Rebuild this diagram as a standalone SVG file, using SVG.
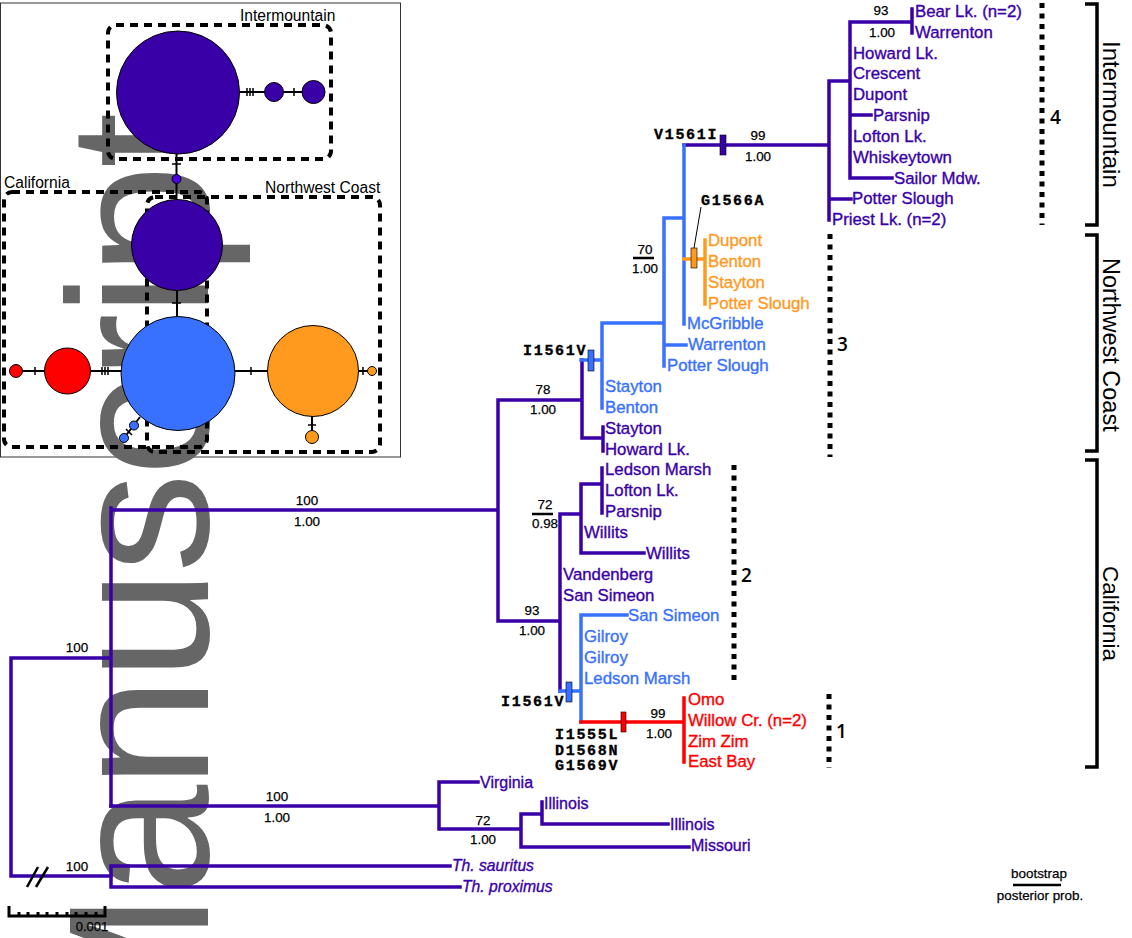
<svg xmlns="http://www.w3.org/2000/svg" width="1132" height="938" viewBox="0 0 1132 938">
<style>
text{font-family:"Liberation Sans",Arial,sans-serif}
.wm{font-size:200px;fill:#666;letter-spacing:-3.500px}
.t{font-size:16.800px;stroke-width:.35}
.l{font-size:16px}
.p{fill:#3a00a8;stroke:#3a00a8}.b{fill:#3870ff;stroke:#3870ff}.o{fill:#ff9a1f;stroke:#ff9a1f}.r{fill:#f00;stroke:#f00}
.i{font-style:italic;font-size:15.700px}
.s{font-size:13.400px;fill:#000;text-anchor:middle;stroke:#000;stroke-width:.25}
.m{font-family:"Liberation Mono",monospace;font-size:15px;font-weight:bold;fill:#000;stroke:#000;stroke-width:.35;letter-spacing:1.700px}
.n{font-family:"Open Sans",sans-serif;font-size:19px;font-weight:600;fill:#000}
.reg{fill:#000}
.hl{font-size:15.600px;fill:#000}
.c{stroke:#000;stroke-width:1}
.e{fill:none;stroke-width:3.500;stroke-linejoin:miter;stroke-linecap:square}
.ep{stroke:#3a00a8}.eb{stroke:#3870ff}.eo{stroke:#ff9a1f}.er{stroke:#f00}
.k{fill:none;stroke:#000;stroke-width:2}
.d{fill:none;stroke:#000;stroke-width:4;stroke-dasharray:8 6}
.v{fill:none;stroke:#000;stroke-width:5;stroke-dasharray:5 5.500}
.tick{stroke:#000;stroke-width:1.500;fill:none}
</style>
<rect x="0.500" y="3" width="400" height="454" fill="#fff" stroke="#333" stroke-width="1"/>
<text class="wm" transform="translate(208,1059) rotate(-90)">Manuscript</text>
<g id="regions">
<rect class="d" x="108" y="25" width="223" height="134" rx="8"/>
<rect class="d" x="4" y="192" width="203" height="255" rx="8"/>
<rect class="d" x="147" y="197" width="233" height="255" rx="8"/>
<text class="hl" x="240" y="21">Intermountain</text>
<text class="hl" x="4" y="188">California</text>
<text class="hl" x="265" y="193">Northwest Coast</text>
</g>
<g id="network-lines">
<path class="k" d="M239 92H303M176.500 153V240M177 290V320M235 371H270M44 371H22M90 371H122M358 371H372M312 416V432M140 417L124 438"/>
<path class="tick" d="M247 88V96M250 88V96M253 88V96M294 88V96M172 164H181M172 303H181M251 367V375M35 367V375M102 367V375M105 367V375M108 367V375M363 367V375M308 425H316M126 429L132 435"/>
</g>
<g id="hap-intermountain-main"><circle class="c" cx="178" cy="92.500" r="61.500" fill="#3a00a8"/></g>
<g id="hap-intermountain-a"><circle class="c" cx="274" cy="92" r="9.500" fill="#3a00a8"/></g>
<g id="hap-intermountain-b"><circle class="c" cx="313.500" cy="92" r="11.500" fill="#3a00a8"/></g>
<g id="hap-link"><circle class="c" cx="176.500" cy="179" r="4.500" fill="#4a00e0"/></g>
<g id="hap-purple-mid"><circle class="c" cx="177" cy="245" r="45.500" fill="#3a00a8"/></g>
<g id="hap-blue-main"><circle class="c" cx="178" cy="373.500" r="57" fill="#3870ff"/></g>
<g id="hap-orange-main"><circle class="c" cx="313" cy="371" r="45.500" fill="#ff9a1f"/></g>
<g id="hap-red-main"><circle class="c" cx="67.500" cy="371" r="23" fill="#f00"/></g>
<g id="hap-red-small"><circle class="c" cx="16" cy="371" r="6.500" fill="#f00"/></g>
<g id="hap-orange-right"><circle class="c" cx="372" cy="371" r="4.500" fill="#ff9a1f"/></g>
<g id="hap-orange-bottom"><circle class="c" cx="312" cy="437" r="6.500" fill="#ff9a1f"/></g>
<g id="hap-blue-a"><circle class="c" cx="134" cy="425.500" r="4.500" fill="#3870ff"/></g>
<g id="hap-blue-b"><circle class="c" cx="124" cy="438" r="4.500" fill="#3870ff"/></g>
<g id="connectors">
<path class="e ep" d="M11 658H111M11 658V876H111M111 508V806M111 510H498M498 400V621M498 400H582M582 360V438H603M603 427V451M498 621H560M560 514V691M560 514H581M581 484V553M581 484H602M602 468V513M581 553H644"/>
<path class="e ep" d="M111 806H439M439 782V829M439 782H478M439 829H521M521 814V847M521 814H542M542 802V824M542 824H668M521 847H689M111 866V887M111 866H450M111 887H460"/>
<path class="e ep" d="M684 145H829M829 81V220M829 81H850M850 22V178M850 22H912M912 9V33M850 178H892M850 115H871M829 199H851"/>
<path class="e eb" d="M684 145V324M664 218H684M664 218V366M664 345H686M602 323H664M602 323V408M581 360H602M560 691H581M581 615V722M581 615H627"/>
<path class="e eo" d="M684 259H705M705 240V304"/>
<path class="e er" d="M581 722H684M684 698V762"/>
<path d="M701 207L694 248" stroke="#000" stroke-width="1" fill="none"/>
<rect x="720" y="135" width="6" height="20" fill="#3a00a8" stroke="#000" stroke-width=".6"/>
<rect x="691" y="248" width="6" height="20" fill="#ff9a1f" stroke="#000" stroke-width=".6"/>
<rect x="588" y="350" width="6" height="21" fill="#3870ff" stroke="#000" stroke-width=".6"/>
<rect x="566" y="682" width="6" height="20" fill="#3870ff" stroke="#000" stroke-width=".6"/>
<rect x="621" y="712" width="5" height="20" fill="#f00" stroke="#000" stroke-width=".6"/>
<path d="M633 258H654M532 514H553M1013 885H1061" stroke="#000" stroke-width="2.500" fill="none"/>
<path d="M27 887L38 867M36 887L48 867" stroke="#000" stroke-width="2.500" fill="none"/>
<path d="M9 906V916H105V906M19 912V916M28 912V916M38 912V916M47 912V916M57 912V916M67 912V916M76 912V916M86 912V916M96 912V916" stroke="#000" stroke-width="3" fill="none"/>
</g>
<g id="clades">
<path class="v" d="M1042 3V225M830 234V457M734 465V680M829 694V768"/>
<path d="M1085 4H1097V225H1085M1085 235H1097V451H1085M1085 460H1097V767H1085" fill="none" stroke="#000" stroke-width="3.500"/>
<text class="n" x="1050" y="124">4</text>
<text class="n" x="837" y="351">3</text>
<text class="n" x="741" y="582">2</text>
<text class="n" x="836" y="738">1</text>
<text class="reg" font-size="24" transform="translate(1103,41) rotate(90)">Intermountain</text>
<text class="reg" font-size="23.500" transform="translate(1103,258) rotate(90)">Northwest Coast</text>
<text class="reg" font-size="22.500" transform="translate(1103,566) rotate(90)">California</text>
</g>
<g id="taxa-purple">
<text class="t p" x="915" y="17">Bear Lk. (n=2)</text>
<text class="t p" x="915" y="38">Warrenton</text>
<text class="t p" x="853" y="59">Howard Lk.</text>
<text class="t p" x="853" y="79">Crescent</text>
<text class="t p" x="853" y="100">Dupont</text>
<text class="t p" x="873" y="121">Parsnip</text>
<text class="t p" x="853" y="142">Lofton Lk.</text>
<text class="t p" x="853" y="163">Whiskeytown</text>
<text class="t p" x="894" y="184">Sailor Mdw.</text>
<text class="t p" x="852" y="204">Potter Slough</text>
<text class="t p" x="832" y="225">Priest Lk. (n=2)</text>
<text class="t p" x="605" y="434">Stayton</text>
<text class="t p" x="605" y="455">Howard Lk.</text>
<text class="t p" x="605" y="475">Ledson Marsh</text>
<text class="t p" x="605" y="496">Lofton Lk.</text>
<text class="t p" x="605" y="517">Parsnip</text>
<text class="t p" x="584" y="538">Willits</text>
<text class="t p" x="646" y="559">Willits</text>
<text class="t p" x="563" y="580">Vandenberg</text>
<text class="t p" x="563" y="601">San Simeon</text>
<text class="t p l" x="480" y="788">Virginia</text>
<text class="t p l" x="544" y="809">Illinois</text>
<text class="t p l" x="670" y="830">Illinois</text>
<text class="t p l" x="691" y="851">Missouri</text>
<text class="t p i" x="452" y="871">Th. sauritus</text>
<text class="t p i" x="462" y="892">Th. proximus</text>
</g>
<g id="taxa-orange">
<text class="t o" x="708" y="246">Dupont</text>
<text class="t o" x="708" y="267">Benton</text>
<text class="t o" x="708" y="288">Stayton</text>
<text class="t o" x="708" y="309">Potter Slough</text>
</g>
<g id="taxa-blue">
<text class="t b" x="687" y="329">McGribble</text>
<text class="t b" x="688" y="350">Warrenton</text>
<text class="t b" x="667" y="371">Potter Slough</text>
<text class="t b" x="605" y="392">Stayton</text>
<text class="t b" x="605" y="413">Benton</text>
<text class="t b" x="628" y="621">San Simeon</text>
<text class="t b" x="584" y="642">Gilroy</text>
<text class="t b" x="584" y="663">Gilroy</text>
<text class="t b" x="584" y="684">Ledson Marsh</text>
</g>
<g id="taxa-red">
<text class="t r" x="688" y="705">Omo</text>
<text class="t r" x="688" y="726">Willow Cr. (n=2)</text>
<text class="t r" x="688" y="747">Zim Zim</text>
<text class="t r" x="688" y="767">East Bay</text>
</g>
<g id="support">
<text class="s" x="881" y="15">93</text><text class="s" x="882" y="37">1.00</text>
<text class="s" x="758" y="140">99</text><text class="s" x="758" y="161">1.00</text>
<text class="s" x="645" y="254">70</text><text class="s" x="645" y="273">1.00</text>
<text class="s" x="543" y="394">78</text><text class="s" x="543" y="414">1.00</text>
<text class="s" x="545" y="509">72</text><text class="s" x="545" y="528">0.98</text>
<text class="s" x="532" y="615">93</text><text class="s" x="532" y="635">1.00</text>
<text class="s" x="658" y="718">99</text><text class="s" x="659" y="738">1.00</text>
<text class="s" x="307" y="505">100</text><text class="s" x="307" y="526">1.00</text>
<text class="s" x="77" y="652">100</text>
<text class="s" x="77" y="871">100</text>
<text class="s" x="277" y="801">100</text><text class="s" x="277" y="822">1.00</text>
<text class="s" x="483" y="825">72</text><text class="s" x="483" y="844">1.00</text>
<text class="s" x="92" y="931" style="font-size:13px">0.001</text>
<text class="s" x="1039" y="878">bootstrap</text>
<text class="s" x="1040" y="900">posterior prob.</text>
</g>
<g id="mutations">
<text class="m" x="654" y="139">V1561I</text>
<text class="m" x="701" y="205">G1566A</text>
<text class="m" x="523" y="355">I1561V</text>
<text class="m" x="501" y="706">I1561V</text>
<text class="m" x="555" y="739">I1555L</text>
<text class="m" x="555" y="755">D1568N</text>
<text class="m" x="555" y="770">G1569V</text>
</g>
</svg>
